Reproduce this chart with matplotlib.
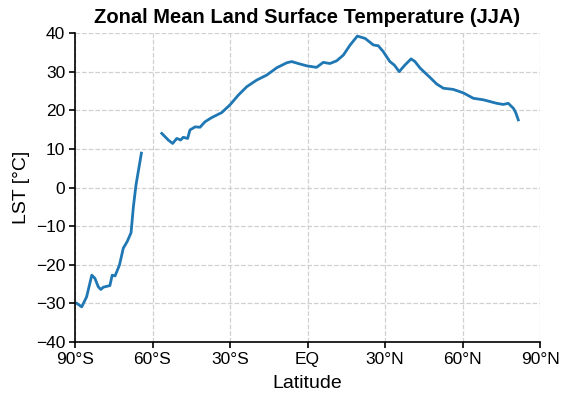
import numpy as np
import matplotlib
matplotlib.use('Agg')
import matplotlib.pyplot as plt

plt.rcParams['font.family'] = ['Liberation Sans', 'DejaVu Sans']

# zonal mean LST (JJA); NaN marks the data gap
lat = [-89.3, -87.4, -85.5, -83.5, -82.3, -81.0, -80.0, -79.0, -76.5, -75.6,
       -74.5, -72.8, -71.3, -69.8, -68.3, -67.4, -66.4, -64.3, -60.0,
       -56.4, -53.9, -52.2, -50.6, -49.1, -48.1, -46.4, -45.5, -43.5, -41.6,
       -39.7, -37.1, -33.2, -30.0, -26.8, -23.5, -19.7, -15.8, -11.9, -8.0,
       -6.1, -3.6, -0.3, 3.5, 6.1, 8.7, 11.3, 13.9, 16.5, 19.3, 22.3,
       25.5, 27.4, 29.3, 31.9, 33.6, 35.5, 37.7, 40.1, 41.6, 43.6, 47.4,
       50.0, 52.6, 56.4, 60.3, 64.2, 68.1, 73.2, 75.8, 77.7, 79.7, 80.6, 81.6]
lst = [-30.0, -30.9, -28.3, -22.7, -23.5, -25.7, -26.4, -25.8, -25.4, -22.7,
       -22.9, -20.1, -15.7, -14.0, -11.7, -5.0, 0.6, 8.9, np.nan,
       14.0, 12.3, 11.4, 12.7, 12.3, 13.0, 12.7, 14.9, 15.7, 15.6,
       17.0, 18.1, 19.4, 21.4, 23.9, 26.1, 27.8, 29.1, 31.0, 32.3,
       32.6, 32.1, 31.5, 31.1, 32.4, 32.1, 32.8, 34.3, 36.9, 39.2, 38.6,
       36.9, 36.7, 35.2, 32.6, 31.7, 30.0, 31.7, 33.3, 32.6, 30.9, 28.5,
       26.8, 25.7, 25.4, 24.5, 23.1, 22.7, 21.8, 21.5, 21.8, 20.5, 19.4, 17.5]

xticks = [-90, -60, -30, 0, 30, 60, 90]
xticklabels = ['90°S', '60°S', '30°S', 'EQ', '30°N', '60°N', '90°N']

fig = plt.figure(figsize=(5.71, 4.03), dpi=100)
ax = fig.add_axes([75 / 571, 1 - 342 / 403, 465 / 571, 309 / 403])

ax.plot(lat, lst, color='#1f77b4', lw=2)

ax.set_xlim(-90, 90)
ax.set_ylim(-40, 40)
ax.set_xticks(xticks)
ax.set_xticklabels(xticklabels)
ax.set_yticks(range(-40, 41, 10))
ax.tick_params(labelsize=12.5, width=1.2, length=4, pad=3)
ax.grid(True, ls='--', color='#d0d0d0', lw=0.9)
ax.spines['top'].set_visible(False)
ax.spines['right'].set_visible(False)
ax.spines['left'].set_linewidth(1.2)
ax.spines['bottom'].set_linewidth(1.2)

ax.set_xlabel('Latitude', fontsize=14, labelpad=6)
ax.set_ylabel('LST [°C]', fontsize=14, labelpad=4)
ax.set_title('Zonal Mean Land Surface Temperature (JJA)', fontsize=14.5,
             fontweight='bold', pad=7)

fig.savefig('out.png', dpi=100)
